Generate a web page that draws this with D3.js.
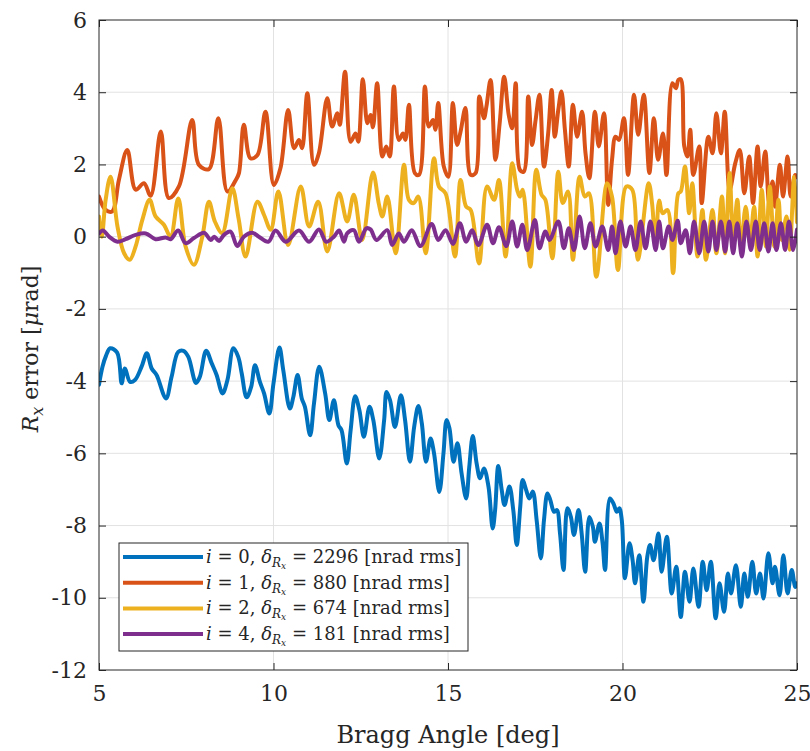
<!DOCTYPE html>
<html>
<head>
<meta charset="utf-8">
<script src="https://cdn.jsdelivr.net/npm/d3@7"></script>
<style>
  body { margin: 0; background: #fff; }
  svg text { font-family: "DejaVu Serif", serif; fill: #262626; }
</style>
</head>
<body>
<div id="chart"></div>
<script>
// Rx error vs Bragg angle, one series per iteration i

const xTicks = [5, 10, 15, 20, 25];
const yTicks = [-12, -10, -8, -6, -4, -2, 0, 2, 4, 6];

const seriesNames = ["0", "1", "2", "4"];
const seriesRms = ["2296", "880", "674", "181"];
const seriesColors = ["#0072BD", "#D95319", "#EDB120", "#7E2F8E"];

// [bragg angle (deg), Rx error (urad)]
const iter0 = [[5.0,-4.1],[5.1,-3.6],[5.2,-3.3],[5.32,-3.09],[5.52,-3.21],[5.65,-4.06],[5.74,-3.65],[5.89,-4.02],[6.03,-3.97],[6.22,-3.6],[6.37,-3.23],[6.51,-3.65],[6.65,-3.83],[6.92,-4.48],[7.08,-3.88],[7.27,-3.19],[7.42,-3.16],[7.56,-3.33],[7.78,-4.05],[7.89,-3.88],[8.07,-3.16],[8.23,-3.51],[8.37,-3.83],[8.54,-4.34],[8.68,-3.97],[8.85,-3.09],[8.99,-3.33],[9.09,-3.79],[9.23,-4.45],[9.36,-4.16],[9.47,-3.56],[9.61,-4.02],[9.73,-4.34],[9.88,-4.9],[10.0,-4.06],[10.17,-3.07],[10.28,-3.7],[10.47,-4.76],[10.57,-4.43],[10.69,-3.83],[10.81,-4.48],[10.9,-4.71],[11.05,-5.5],[11.16,-4.62],[11.31,-3.6],[11.48,-4.34],[11.6,-5.08],[11.73,-4.53],[11.86,-5.22],[11.95,-5.36],[12.1,-6.28],[12.21,-5.36],[12.34,-4.42],[12.46,-4.8],[12.59,-5.54],[12.75,-4.71],[12.86,-5.08],[13.03,-6.14],[13.17,-5.08],[13.24,-4.3],[13.34,-4.53],[13.48,-5.27],[13.65,-4.39],[13.77,-5.08],[13.91,-6.23],[14.03,-5.27],[14.15,-4.69],[14.25,-5.17],[14.37,-6.23],[14.5,-5.59],[14.6,-6.0],[14.75,-7.07],[14.87,-6.0],[14.96,-5.08],[15.04,-5.3],[15.16,-6.23],[15.27,-5.72],[15.39,-6.56],[15.52,-7.25],[15.61,-6.37],[15.71,-5.52],[15.82,-6.28],[15.92,-6.69],[16.03,-6.42],[16.16,-6.92],[16.28,-8.08],[16.35,-7.57],[16.44,-6.35],[16.54,-7.02],[16.62,-7.43],[16.76,-6.92],[16.87,-7.57],[16.97,-8.54],[17.07,-7.48],[17.14,-6.74],[17.24,-7.02],[17.33,-7.25],[17.43,-7.06],[17.54,-7.85],[17.66,-8.91],[17.75,-7.85],[17.85,-7.11],[17.93,-7.29],[18.04,-7.62],[18.12,-7.57],[18.21,-8.22],[18.31,-9.23],[18.42,-7.52],[18.52,-7.76],[18.61,-8.26],[18.74,-7.57],[18.83,-8.22],[18.93,-9.28],[19.05,-7.76],[19.15,-8.03],[19.21,-8.45],[19.34,-7.94],[19.43,-8.49],[19.5,-9.23],[19.64,-7.25],[19.74,-7.39],[19.84,-7.62],[19.91,-7.52],[19.98,-7.85],[20.07,-9.46],[20.2,-8.49],[20.29,-8.96],[20.36,-9.6],[20.48,-8.82],[20.6,-10.11],[20.71,-8.86],[20.79,-8.54],[20.89,-8.96],[21.03,-8.22],[21.12,-9.28],[21.27,-8.31],[21.41,-9.88],[21.54,-9.14],[21.67,-10.53],[21.79,-9.28],[21.92,-10.11],[22.03,-9.19],[22.18,-10.25],[22.3,-9.0],[22.41,-9.79],[22.53,-9.0],[22.67,-10.57],[22.78,-9.6],[22.91,-10.39],[23.02,-9.33],[23.11,-9.88],[23.25,-9.1],[23.39,-10.25],[23.49,-9.33],[23.59,-9.97],[23.72,-9.0],[23.83,-9.88],[23.94,-9.33],[24.04,-10.02],[24.18,-8.77],[24.3,-9.6],[24.37,-9.14],[24.5,-9.93],[24.61,-8.82],[24.73,-9.88],[24.85,-9.23],[24.95,-9.7],[25.0,-9.6]];

const iter1 = [[5.0,1.11],[5.19,0.74],[5.38,0.7],[5.57,1.57],[5.81,2.4],[6.05,1.3],[6.29,1.48],[6.48,1.13],[6.77,2.91],[7.0,1.07],[7.29,1.39],[7.67,3.23],[7.86,1.99],[8.15,1.87],[8.42,3.28],[8.68,1.25],[8.92,1.57],[9.01,1.76],[9.15,3.1],[9.34,2.17],[9.54,2.26],[9.77,3.46],[10.01,1.43],[10.2,1.9],[10.42,3.51],[10.59,2.45],[10.73,2.68],[10.82,2.45],[10.97,3.97],[11.16,1.99],[11.3,2.31],[11.54,3.83],[11.68,3.05],[11.83,3.42],[11.9,3.1],[12.05,4.57],[12.21,2.63],[12.35,2.86],[12.43,2.63],[12.56,4.36],[12.69,3.14],[12.78,3.37],[12.85,3.03],[12.97,4.25],[13.12,2.22],[13.23,2.5],[13.33,2.22],[13.45,4.16],[13.59,2.68],[13.71,2.86],[13.78,2.68],[13.88,3.65],[14.05,1.76],[14.17,1.71],[14.34,4.16],[14.45,3.05],[14.57,3.23],[14.64,2.96],[14.72,3.7],[14.88,1.94],[15.01,1.66],[15.14,3.7],[15.26,2.54],[15.36,2.91],[15.5,3.56],[15.65,1.71],[15.79,1.76],[15.9,3.88],[16.03,3.28],[16.1,3.6],[16.22,4.34],[16.36,2.13],[16.48,3.14],[16.61,4.43],[16.74,3.37],[16.84,3.0],[16.94,4.25],[17.06,1.85],[17.17,1.8],[17.3,3.88],[17.41,2.54],[17.51,3.23],[17.62,3.93],[17.75,1.94],[17.87,2.86],[17.97,4.06],[18.06,2.77],[18.16,3.51],[18.25,4.02],[18.35,2.96],[18.46,1.94],[18.58,3.65],[18.7,2.77],[18.84,3.46],[18.94,2.31],[19.05,1.62],[19.21,3.46],[19.32,2.5],[19.47,3.42],[19.59,0.88],[19.7,2.13],[19.8,2.77],[19.9,2.68],[20.04,3.28],[20.16,1.71],[20.33,3.93],[20.45,2.82],[20.61,3.93],[20.77,1.76],[20.9,3.28],[21.02,2.13],[21.16,2.86],[21.26,1.71],[21.43,4.25],[21.53,4.11],[21.6,4.34],[21.67,4.36],[21.77,2.5],[21.86,2.22],[21.94,2.96],[22.03,1.71],[22.2,2.5],[22.27,0.93],[22.46,2.77],[22.58,2.31],[22.69,3.42],[22.82,2.31],[22.93,3.46],[23.07,1.3],[23.23,2.03],[23.36,2.4],[23.49,1.2],[23.63,2.22],[23.74,0.93],[23.87,2.5],[23.96,1.39],[24.09,2.36],[24.2,0.97],[24.3,1.53],[24.37,0.83],[24.51,1.99],[24.6,1.11],[24.73,2.22],[24.82,1.11],[24.95,1.71],[25.0,1.65]];

const iter2 = [[5.0,0.56],[5.08,0.0],[5.19,1.02],[5.33,1.66],[5.53,0.28],[5.72,-0.46],[5.88,-0.64],[6.05,-0.27],[6.24,0.46],[6.45,1.02],[6.62,0.56],[6.86,0.33],[7.05,0.0],[7.27,1.06],[7.48,-0.27],[7.72,-0.78],[7.96,0.0],[8.15,0.97],[8.32,0.42],[8.53,0.1],[8.82,1.34],[9.0,0.5],[9.2,-0.55],[9.54,0.97],[9.73,0.6],[9.92,0.19],[10.14,1.25],[10.42,-0.23],[10.78,1.39],[11.02,0.28],[11.28,0.97],[11.54,-0.41],[11.88,1.2],[12.11,0.42],[12.3,1.16],[12.54,-0.09],[12.85,1.78],[13.02,0.9],[13.12,0.56],[13.26,1.11],[13.5,-0.46],[13.74,1.99],[13.88,1.02],[14.02,0.93],[14.15,1.11],[14.36,-0.46],[14.6,2.17],[14.74,1.39],[14.93,1.2],[15.2,-0.55],[15.36,1.57],[15.52,0.83],[15.65,0.74],[15.89,-0.74],[16.12,1.39],[16.32,1.02],[16.46,1.57],[16.65,-0.55],[16.84,2.03],[16.98,1.3],[17.06,1.11],[17.14,1.3],[17.36,-0.83],[17.53,1.85],[17.68,1.16],[17.79,1.02],[17.99,-0.6],[18.16,1.8],[18.29,0.93],[18.44,1.25],[18.58,-0.64],[18.77,1.66],[18.92,1.11],[19.04,1.2],[19.25,-1.11],[19.56,1.48],[19.7,1.11],[19.87,-0.92],[20.11,1.39],[20.28,1.3],[20.44,-0.64],[20.75,1.48],[20.85,0.9],[20.95,-0.3],[21.05,1.0],[21.15,0.65],[21.29,0.74],[21.45,-1.01],[21.6,1.2],[21.67,1.25],[21.79,1.94],[21.91,0.65],[22.0,1.48],[22.15,-0.55],[22.29,0.74],[22.39,-0.64],[22.58,0.74],[22.69,-0.46],[22.85,1.11],[22.94,-0.46],[23.07,1.76],[23.17,-0.09],[23.29,1.02],[23.39,-0.27],[23.53,0.83],[23.65,-0.18],[23.77,0.83],[23.87,-0.55],[23.99,1.3],[24.11,-0.27],[24.22,1.39],[24.35,-0.27],[24.47,1.02],[24.56,-0.09],[24.7,0.56],[24.79,-0.36],[24.92,1.66],[25.0,0.4]];

const iter4 = [[5.0,0.09],[5.11,0.17],[5.29,0.0],[5.53,-0.14],[5.76,-0.07],[6.05,0.05],[6.34,0.09],[6.62,-0.07],[6.91,-0.02],[7.05,-0.07],[7.27,0.17],[7.48,-0.18],[7.72,-0.04],[8.01,0.11],[8.2,-0.09],[8.3,0.0],[8.44,-0.12],[8.58,0.05],[8.77,0.14],[8.96,-0.26],[9.15,0.0],[9.39,0.11],[9.58,0.0],[9.85,-0.14],[10.06,0.17],[10.35,-0.14],[10.73,0.17],[11.02,-0.14],[11.3,0.2],[11.51,-0.14],[11.73,0.0],[11.88,0.17],[12.02,-0.14],[12.11,0.09],[12.3,0.18],[12.45,-0.14],[12.66,0.23],[12.78,0.2],[12.95,-0.09],[13.26,0.18],[13.4,-0.23],[13.59,0.09],[13.74,-0.14],[13.96,0.18],[14.21,-0.26],[14.53,0.35],[14.72,-0.09],[14.93,0.18],[15.14,-0.2],[15.34,0.37],[15.52,-0.14],[15.69,0.18],[15.87,-0.23],[16.12,0.33],[16.29,-0.18],[16.46,0.26],[16.67,-0.26],[16.84,0.42],[16.98,-0.27],[17.13,0.33],[17.27,-0.37],[17.49,0.46],[17.62,-0.32],[17.79,0.14],[17.91,-0.09],[18.16,0.42],[18.32,-0.32],[18.46,0.23],[18.61,-0.37],[18.77,0.56],[18.92,-0.32],[19.08,0.37],[19.23,-0.27],[19.42,0.28],[19.59,-0.37],[19.7,0.28],[19.8,-0.46],[19.94,0.42],[20.09,-0.27],[20.23,0.28],[20.37,-0.37],[20.52,0.42],[20.66,-0.32],[20.8,0.42],[20.95,-0.37],[21.05,0.42],[21.16,-0.32],[21.32,0.28],[21.43,-0.09],[21.58,0.44],[21.67,-0.18],[21.81,0.18],[21.93,-0.46],[22.05,0.42],[22.2,-0.46],[22.34,0.42],[22.46,-0.41],[22.58,0.42],[22.69,-0.37],[22.82,0.42],[22.94,-0.41],[23.06,0.42],[23.17,-0.46],[23.29,0.37],[23.42,-0.55],[23.55,0.42],[23.68,-0.37],[23.82,0.42],[23.93,-0.37],[24.06,0.37],[24.18,-0.41],[24.3,0.37],[24.41,-0.37],[24.54,0.37],[24.66,-0.37],[24.77,0.42],[24.89,-0.37],[25.0,0.2]];

const allSeries = [iter0, iter1, iter2, iter4];

const serif = "'DejaVu Serif', serif";

function drawChart() {
    const width = 810, height = 751;
    const margin = { top: 20, right: 13, bottom: 81, left: 99 };
    const innerW = width - margin.left - margin.right;
    const innerH = height - margin.top - margin.bottom;

    const svg = d3.select("#chart").append("svg")
        .attr("width", width)
        .attr("height", height)
        .attr("font-family", serif);

    const g = svg.append("g")
        .attr("transform", `translate(${margin.left},${margin.top})`);

    const x = d3.scaleLinear().domain([5, 25]).range([0, innerW]);
    const y = d3.scaleLinear().domain([-12, 6]).range([innerH, 0]);

    // grid
    g.append("g").selectAll("line.vg")
        .data(xTicks.slice(1, -1))
        .enter().append("line")
        .attr("x1", d => x(d)).attr("x2", d => x(d))
        .attr("y1", 0).attr("y2", innerH)
        .attr("stroke", "#e2e2e2").attr("stroke-width", 1);
    g.append("g").selectAll("line.hg")
        .data(yTicks.slice(1, -1))
        .enter().append("line")
        .attr("x1", 0).attr("x2", innerW)
        .attr("y1", d => y(d)).attr("y2", d => y(d))
        .attr("stroke", "#e2e2e2").attr("stroke-width", 1);

    g.append("defs").append("clipPath").attr("id", "plotClip")
        .append("rect").attr("width", innerW).attr("height", innerH);

    const line = d3.line()
        .x(d => x(d[0]))
        .y(d => y(d[1]))
        .curve(d3.curveCatmullRom.alpha(0.5));

    g.append("g").attr("clip-path", "url(#plotClip)")
        .selectAll("path")
        .data(allSeries)
        .enter().append("path")
        .attr("d", line)
        .attr("fill", "none")
        .attr("stroke", (d, i) => seriesColors[i])
        .attr("stroke-width", 4)
        .attr("stroke-linejoin", "round")
        .attr("stroke-linecap", "round");

    // axes, ticks inward on all four sides
    const styleAxis = sel => {
        sel.attr("font-family", serif);
        sel.select(".domain").remove();
        sel.selectAll(".tick line").attr("stroke", "#262626").attr("stroke-width", 1);
        sel.selectAll(".tick text")
            .style("font-family", serif)
            .style("font-size", "22px")
            .attr("fill", "#262626");
    };
    const plain = d => String(d);

    g.append("g")
        .attr("transform", `translate(0,${innerH})`)
        .call(d3.axisBottom(x).tickValues(xTicks).tickSize(-7).tickPadding(15).tickFormat(plain))
        .call(styleAxis);
    g.append("g")
        .call(d3.axisTop(x).tickValues(xTicks).tickSize(-7).tickFormat(""))
        .call(styleAxis);
    g.append("g")
        .call(d3.axisLeft(y).tickValues(yTicks).tickSize(-7).tickPadding(12).tickFormat(plain))
        .call(styleAxis);
    g.append("g")
        .attr("transform", `translate(${innerW},0)`)
        .call(d3.axisRight(y).tickValues(yTicks).tickSize(-7).tickFormat(""))
        .call(styleAxis);

    g.append("rect")
        .attr("width", innerW).attr("height", innerH)
        .attr("fill", "none").attr("stroke", "#262626").attr("stroke-width", 1);

    // axis labels
    svg.append("text")
        .attr("x", margin.left + innerW / 2)
        .attr("y", 743)
        .attr("text-anchor", "middle")
        .style("font-family", serif)
        .style("font-size", "24px")
        .text("Bragg Angle [deg]");

    const yl = svg.append("text")
        .attr("transform", "translate(38,349) rotate(-90)")
        .attr("text-anchor", "middle")
        .style("font-family", serif)
        .style("font-size", "22px");
    yl.append("tspan").style("font-style", "italic").text("R");
    yl.append("tspan").style("font-style", "italic").style("font-size", "16px")
        .attr("dy", 5).text("x");
    yl.append("tspan").attr("dy", -5).text(" error [");
    yl.append("tspan").style("font-style", "italic").text("μ");
    yl.append("tspan").text("rad]");

    // legend
    const lg = svg.append("g").attr("transform", "translate(119,543)");
    lg.append("rect")
        .attr("width", 349).attr("height", 108)
        .attr("fill", "#fff").attr("stroke", "#262626").attr("stroke-width", 1);

    const rows = lg.selectAll("g.row")
        .data(seriesNames)
        .enter().append("g")
        .attr("transform", (d, i) => `translate(0,${14 + i * 25.7})`);

    rows.append("line")
        .attr("x1", 4).attr("x2", 84)
        .attr("stroke", (d, i) => seriesColors[i])
        .attr("stroke-width", 4);

    const txt = rows.append("text")
        .attr("x", 87).attr("y", 6)
        .style("font-family", serif)
        .style("font-size", "18px");
    txt.append("tspan").style("font-style", "italic").text("i");
    txt.append("tspan").text(d => " = " + d + ", ");
    txt.append("tspan").style("font-style", "italic").text("δ");
    txt.append("tspan").style("font-style", "italic").style("font-size", "12px")
        .attr("dy", 4).text("R");
    txt.append("tspan").style("font-style", "italic").style("font-size", "9px")
        .attr("dy", 2).text("x");
    txt.append("tspan").attr("dy", -6).text((d, i) => " = " + seriesRms[i] + " [nrad rms]");
}

window.onload = function() {
    drawChart();
};
</script>
</body>
</html>
